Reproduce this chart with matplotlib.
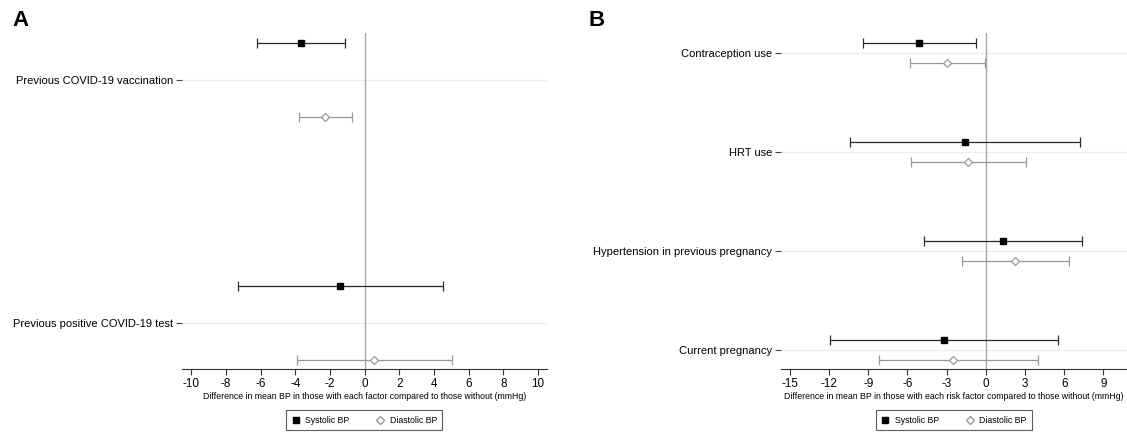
import matplotlib
matplotlib.use("Agg")
import matplotlib.pyplot as plt
from matplotlib.lines import Line2D
import numpy as np

plt.rcParams['font.family'] = ['Liberation Sans', 'DejaVu Sans']
plt.rcParams['axes.unicode_minus'] = False

# Panel A data
cats_a = ["Previous COVID-19 vaccination", "Previous positive COVID-19 test"]
sys_a = [-3.67, -1.42]
sys_a_lo = [-6.20, -7.32]
sys_a_hi = [-1.12, 4.52]
dia_a = [-2.29, 0.56]
dia_a_lo = [-3.80, -3.92]
dia_a_hi = [-0.71, 5.05]
xticks_a = [-10, -8, -6, -4, -2, 0, 2, 4, 6, 8, 10]
xlabel_a = "Difference in mean BP in those with each factor compared to those without (mmHg)"

# Panel B data
cats_b = ["Contraception use", "HRT use", "Hypertension in previous pregnancy", "Current pregnancy"]
sys_b = [-5.09, -1.60, 1.32, -3.20]
sys_b_lo = [-9.39, -10.36, -4.76, -11.92]
sys_b_hi = [-0.79, 7.20, 7.39, 5.51]
dia_b = [-2.98, -1.35, 2.26, -2.48]
dia_b_lo = [-5.79, -5.76, -1.79, -8.17]
dia_b_hi = [-0.10, 3.09, 6.34, 3.96]
xticks_b = [-15, -12, -9, -6, -3, 0, 3, 6, 9]
xlabel_b = "Difference in mean BP in those with each risk factor compared to those without (mmHg)"

series_names = ["Systolic BP", "Diastolic BP"]

W, H = 1127, 432
fig = plt.figure(figsize=(W / 100, H / 100), dpi=100)

SYS_C = "black"
SYS_LC = "#2a2a2a"
DIA_C = "#999999"


def panel(ax, cats, s, slo, shi, d, dlo, dhi, off, xlim, ylim, xticks, xlabel):
    n = len(cats)
    ypos = np.arange(n, 0, -1).astype(float)
    for y in ypos:
        ax.axhline(y, color="#ececec", lw=0.8, zorder=0)
    ax.axvline(0, color="#a8a8a8", lw=1.0, zorder=1)
    s = np.array(s); d = np.array(d)
    ax.errorbar(s, ypos + off, xerr=[s - np.array(slo), np.array(shi) - s],
                fmt="none", ecolor=SYS_LC, capsize=3.4, elinewidth=0.9,
                capthick=0.9, zorder=3)
    ax.plot(s, ypos + off, "s", color=SYS_C, ms=4.8, zorder=4)
    ax.errorbar(d, ypos - off, xerr=[d - np.array(dlo), np.array(dhi) - d],
                fmt="D", color=DIA_C, mfc="white", mec=DIA_C, ms=4, mew=0.9,
                capsize=3.4, elinewidth=0.9, capthick=0.9, zorder=3)
    ax.set_xlim(*xlim)
    ax.set_ylim(*ylim)
    ax.set_yticks(ypos)
    ax.set_yticklabels(cats, fontsize=8)
    ax.set_xticks(xticks)
    ax.set_xticklabels([str(t) for t in xticks], fontsize=8.4)
    ax.set_xlabel(xlabel, fontsize=6.3, labelpad=1.5)
    for sp in ["top", "right", "left"]:
        ax.spines[sp].set_visible(False)
    ax.spines["bottom"].set_linewidth(0.8)
    ax.spines["bottom"].set_color("#333333")
    ax.tick_params(axis="y", length=4, width=0.8, color="#444444", pad=2)
    ax.tick_params(axis="x", length=4, width=0.8, color="#333333", pad=2.5)
    ax.set_facecolor("none")

    handles = [Line2D([], [], marker="s", color=SYS_C, ls="none", ms=4.8),
               Line2D([], [], marker="D", color=DIA_C, mfc="white", ls="none", ms=4)]
    leg = ax.legend(handles, series_names, loc="center", bbox_to_anchor=(0.5, -0.151),
                    ncol=2, fontsize=6.3, frameon=True, fancybox=False,
                    edgecolor="#333333", handletextpad=0.6, columnspacing=3.0,
                    handlelength=1.0, borderpad=0.6)
    leg.get_frame().set_linewidth(0.8)


bottom = 1 - 369.3 / H
top = 1 - 33 / H
axA = fig.add_axes([181.7 / W, bottom, (546.7 - 181.7) / W, top - bottom])
axB = fig.add_axes([780.7 / W, bottom, (1127 - 780.7) / W, top - bottom])

panel(axA, cats_a, sys_a, sys_a_lo, sys_a_hi, dia_a, dia_a_lo, dia_a_hi,
      0.152, (-10.55, 10.5), (0.811, 2.193), xticks_a, xlabel_a)
panel(axB, cats_b, sys_b, sys_b_lo, sys_b_hi, dia_b, dia_b_lo, dia_b_hi,
      0.1, (-15.7, 10.8), (0.805, 4.205), xticks_b, xlabel_b)

fig.text(12 / W, 1 - 10 / H, "A", fontsize=16, fontweight="bold", va="top", ha="left")
fig.text(589 / W, 1 - 10 / H, "B", fontsize=16, fontweight="bold", va="top", ha="left")

fig.savefig("out.png", dpi=100, facecolor="white")
